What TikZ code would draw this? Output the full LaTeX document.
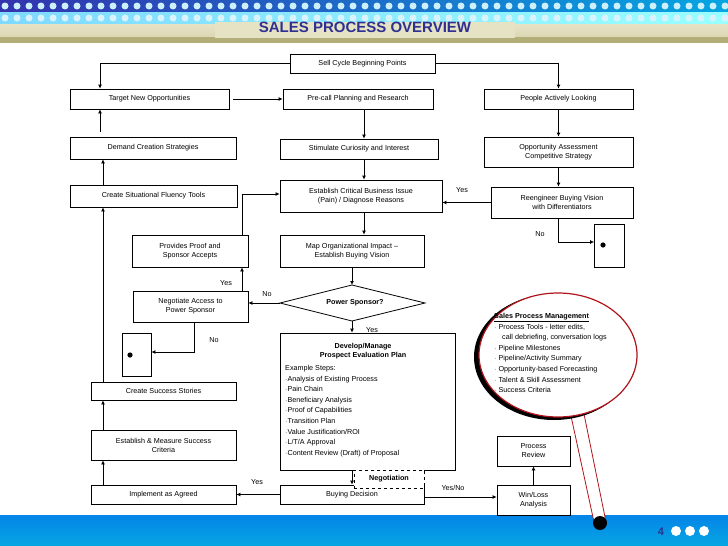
\documentclass[tikz,border=0pt]{standalone}
\usepackage{fontspec}
\setmainfont{Liberation Sans}
\usetikzlibrary{arrows.meta}
\definecolor{navy}{HTML}{2E3192}
\definecolor{cyanbar}{HTML}{06A6E2}
\definecolor{tanband}{HTML}{E6E2C4}
\definecolor{olive}{HTML}{B3AE78}
\definecolor{redb}{HTML}{B0141B}
\begin{document}
\begin{tikzpicture}[x=1pt,y=-1pt,
  box/.style={draw,thick,fill=white,inner sep=1pt,align=center,font=\fontsize{7.2}{9}\selectfont},
  lbl/.style={font=\fontsize{7.2}{9}\selectfont,inner sep=1pt},
  arr/.style={thick,-{Latex[length=4pt,width=4pt]}},
  ln/.style={thick}]
\useasboundingbox (0,0) rectangle (728,546);
\fill[white] (0,0) rectangle (728,546);
% header
\shade[left color=blue!60!black!80, right color=cyanbar] (0,0) rectangle (728,12);
\shade[left color=blue!30!cyan!50, right color=cyan!40] (0,12) rectangle (728,24);
\foreach \i in {0,...,60}{
  \fill[white!80!cyan] (5+\i*12,6) circle (3.5);
  \fill[white!85!cyan] (5+\i*12,18) circle (3.5);}
\shade[top color=tanband, bottom color=tanband!80!olive] (0,24) rectangle (728,37);
\fill[olive] (0,37) rectangle (728,43);
\fill[tanband] (215,22) rectangle (515,38);
\node[font=\bfseries\fontsize{15}{17}\selectfont,text=navy] (title) at (365,27) {SALES PROCESS OVERVIEW};
% footer
\shade[top color=cyanbar!80!blue, bottom color=cyanbar] (0,515) rectangle (728,546);
\node[font=\bfseries\fontsize{11}{12}\selectfont,text=navy] (pg) at (661,532) {4};
\foreach \x in {676,690,704}{\fill[white] (\x,531) circle (5);}
% magnifier
\fill[white] (571,416)--(594,522)--(606,522)--(584,414)--cycle;
\draw[redb,thick] (571,416)--(594,522) (584,414)--(606,522);
\fill[black] (600,523) circle (7);
\fill[black] (554,357) ellipse (80 and 63);
\draw[redb,line width=1.2pt,fill=white] (558,355) ellipse (79 and 62);
\node[anchor=north west,align=left,font=\fontsize{7.2}{10.6}\selectfont,inner sep=0] (spm) at (494,313)
 {\textbf{\underline{Sales Process Management}}\\
  $\cdot$ Process Tools - letter edits,\\
  \hspace*{8pt}call debriefing, conversation logs\\
  $\cdot$ Pipeline Milestones\\
  $\cdot$ Pipeline/Activity Summary\\
  $\cdot$ Opportunity-based Forecasting\\
  $\cdot$ Talent \& Skill Assessment\\
  $\cdot$ Success Criteria};
% boxes
\node[box,minimum width=145,minimum height=19] (sell) at (362.5,63.5) {Sell Cycle Beginning Points};
\node[box,minimum width=159,minimum height=20] (target) at (149.5,99) {Target New Opportunities};
\node[box,minimum width=150,minimum height=20] (precall) at (358,99) {Pre-call Planning and Research};
\node[box,minimum width=149,minimum height=20] (people) at (558.5,99) {People Actively Looking};
\node[box,minimum width=166,minimum height=22] (demand) at (153,148) {Demand Creation Strategies};
\node[box,minimum width=158,minimum height=20] (stim) at (359,149) {Stimulate Curiosity and Interest};
\node[box,minimum width=149,minimum height=30] (opp) at (558.5,152) {Opportunity Assessment\\Competitive Strategy};
\node[box,minimum width=167,minimum height=22] (sit) at (153.5,196) {Create Situational Fluency Tools};
\node[box,minimum width=162,minimum height=32] (crit) at (361,196) {Establish Critical Business Issue\\(Pain) / Diagnose Reasons};
\node[box,minimum width=142,minimum height=31] (reeng) at (562,202.5) {Reengineer Buying Vision\\with Differentiators};
\node[box,minimum width=30,minimum height=43] (sboxR) at (609.5,245.5) {};
\fill (603,245) circle (2.6);
\node[box,minimum width=116,minimum height=32] (proof) at (190,251) {Provides Proof and\\Sponsor Accepts};
\node[box,minimum width=144,minimum height=32] (map) at (352,251) {Map Organizational Impact --\\Establish Buying Vision};
\coordinate (dl) at (280,303); \coordinate (dr) at (425,303);
\coordinate (dt) at (352,285); \coordinate (db) at (352,321);
\draw[thick,fill=white] (dl)--(dt)--(dr)--(db)--cycle;
\node[lbl,font=\bfseries\fontsize{7.2}{9}\selectfont] (dia) at (355,303) {Power Sponsor?};
\node[box,minimum width=115,minimum height=31] (neg) at (190.5,306.5) {Negotiate Access to\\Power Sponsor};
\node[box,minimum width=29,minimum height=43] (sboxL) at (136.5,354.5) {};
\fill (130,355) circle (2.6);
\node[box,minimum width=175,minimum height=137] (dev) at (367.5,401.5) {};
\node[lbl,font=\bfseries\fontsize{7.2}{9.5}\selectfont,align=center,anchor=north] (devh) at (363,342) {Develop/Manage\\Prospect Evaluation Plan};
\node[lbl,align=left,anchor=north west,font=\fontsize{7.2}{10.6}\selectfont,inner sep=0] (devl) at (285,365)
 {Example Steps:\\ $\cdot$Analysis of Existing Process\\ $\cdot$Pain Chain\\ $\cdot$Beneficiary Analysis\\ $\cdot$Proof of Capabilities\\ $\cdot$Transition Plan\\ $\cdot$Value Justification/ROI\\ $\cdot$L/T/A Approval\\ $\cdot$Content Review (Draft) of Proposal};
\node[box,minimum width=145,minimum height=18] (success) at (163.5,391) {Create Success Stories};
\node[box,minimum width=145,minimum height=30] (measure) at (163.5,445) {Establish \& Measure Success\\Criteria};
\node[box,minimum width=145,minimum height=19] (impl) at (163.5,494.5) {Implement as Agreed};
\node[box,minimum width=144,minimum height=19] (buy) at (352,494.5) {Buying Decision};
\node[draw,thick,dashed,fill=white,minimum width=70,minimum height=18,font=\bfseries\fontsize{7.2}{9}\selectfont] (nego) at (389,479) {Negotiation};
\node[box,minimum width=73,minimum height=30] (review) at (533.5,451) {Process\\Review};
\node[box,minimum width=73,minimum height=30] (win) at (533.5,500) {Win/Loss\\Analysis};
% connectors
\draw[arr] (sell.west) -| (target.north -| 100,0);
\draw[arr] (sell.east) -| (people.north);
\draw[arr] (target.east)++(4,0) -- (precall.west);
\draw[arr] (precall.south -| 364,0) -- (stim.north -| 364,0);
\draw[arr] (stim.south -| 364,0) -- (crit.north -| 364,0);
\draw[arr] (crit.south -| 364,0) -- (map.north -| 364,0);
\draw[arr] (map.south) -- (dt);
\draw[arr] (db) -- (dev.north -| db);
\node[lbl] (yes1) at (372,330) {Yes};
\draw[arr] (dl) -- (neg.east |- dl);
\node[lbl] (no1) at (267,294) {No};
\draw[arr] (neg.north -| 242,0) -- (proof.south -| 242,0);
\node[lbl] (yes2) at (226,283) {Yes};
\draw[arr] (proof.north -| 242,0) |- (crit.west |- 0,194);
\draw[arr] (neg.south -| 194,0) |- (sboxL.east |- 0,352);
\node[lbl] (no2) at (214,340) {No};
\draw[arr] (people.south) -- (opp.north);
\draw[arr] (opp.south) -- (reeng.north -| opp.south);
\draw[arr] (reeng.west) -- (crit.east |- reeng.west);
\node[lbl] (yes3) at (462,190) {Yes};
\draw[arr] (reeng.south -| 558,0) |- (sboxR.west |- 0,242);
\node[lbl] (no3) at (540,234) {No};
\draw[arr] (dev.south -| 352,0) -- (buy.north);
\draw[arr] (buy.west) -- (impl.east);
\node[lbl] (yes4) at (257,482) {Yes};
\draw[arr] (buy.east |- 0,497) -- (win.west |- 0,497);
\node[lbl] (yn) at (453,488) {Yes/No};
\draw[arr] (win.north) -- (review.south);
\draw[arr] (impl.north -| 103,0) -- (measure.south -| 103,0);
\draw[arr] (measure.north -| 103,0) -- (success.south -| 103,0);
\draw[arr] (success.north -| 103,0) -- (sit.south -| 103,0);
\draw[arr] (sit.north -| 103,0) -- (demand.south -| 103,0);
\draw[arr] (demand.north -| 100,0) ++(0,-5) -- (target.south -| 100,0);
\end{tikzpicture}
\end{document}
